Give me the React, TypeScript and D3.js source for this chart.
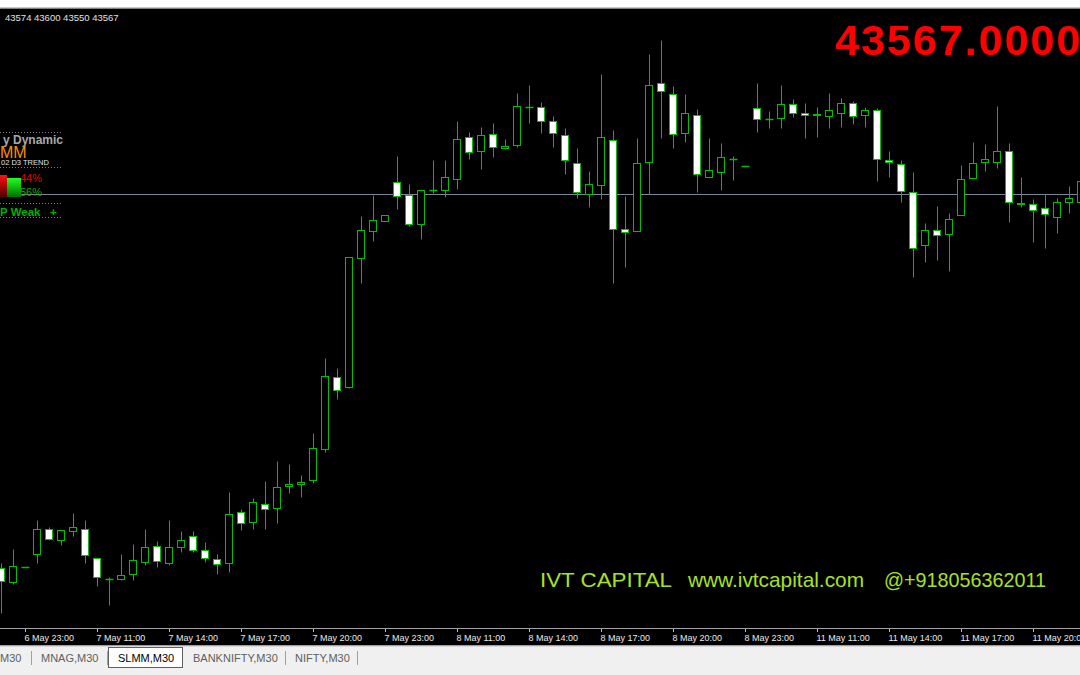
import React from 'react';
import * as d3 from 'd3';

const W = 1080;
const H = 675;

const opens = [41697,41630,41705,41769,41892,41840,41884,41892,41750,41644,41645,41667,41730,41810,41724,41805,41860,41787,41742,41724,41979,41927,42017,41997,42110,42119,42137,42294,42652,42602,43251,43385,43435,43630,43564,43417,43589,43589,43645,43852,43784,43867,43799,43814,44005,44005,43935,43862,43725,43567,43614,43837,43395,43385,43727,44122,44070,43874,43964,43655,43677,43744,43710,43997,43942,43949,44017,43974,43965,43957,43975,44025,43965,43990,43737,43717,43580,43315,43387,43367,43464,43647,43727,43727,43784,43525,43520,43500,43455,43529,43527];
const highs = [41725,41792,41706,41939,41905,41889,41972,41939,41750,41652,41769,41819,41892,41834,41939,41884,41884,41830,41767,42077,41996,42050,42134,42235,42220,42164,42375,42747,42697,43256,43460,43565,43466,43759,43617,43587,43739,43739,43935,43880,43904,43922,43842,44072,44114,44027,43959,43897,43800,43685,44169,43889,43560,43849,44267,44339,44109,44070,43995,43850,43825,43759,43711,44122,43984,44114,44042,44022,44002,44072,44050,44035,44002,43997,43785,43739,43677,43425,43509,43472,43714,43830,43817,44009,43822,43652,43542,43567,43547,43609,43636];
const lows = [41472,41617,41705,41722,41839,41812,41859,41722,41610,41514,41639,41639,41714,41705,41714,41780,41780,41730,41669,41680,41889,41892,41892,41925,42072,42052,42125,42277,42544,42599,43122,43333,43435,43491,43407,43344,43575,43552,43595,43742,43694,43755,43792,43805,43922,43872,43805,43667,43547,43502,43542,43122,43202,43385,43567,43850,43797,43827,43577,43655,43587,43639,43710,43879,43900,43897,43955,43847,43855,43900,43905,43919,43902,43634,43652,43527,43155,43230,43239,43185,43464,43647,43685,43699,43430,43505,43329,43300,43372,43475,43527];
const closes = [41635,41710,41706,41892,41845,41889,41905,41762,41654,41645,41664,41739,41804,41732,41804,41840,41787,41747,41717,41969,41922,42029,41995,42105,42117,42127,42299,42660,42587,43256,43391,43441,43466,43559,43420,43587,43590,43654,43844,43780,43862,43804,43809,44007,44006,43935,43872,43739,43578,43619,43855,43394,43379,43722,44112,44082,43867,43972,43670,43687,43755,43745,43711,43942,43943,44017,43975,43962,43966,43990,44022,43959,43987,43744,43727,43584,43300,43390,43362,43445,43642,43726,43745,43785,43529,43517,43489,43469,43527,43549,43636];

const timeLabels = ['6 May 23:00','7 May 11:00','7 May 14:00','7 May 17:00','7 May 20:00','7 May 23:00','8 May 11:00','8 May 14:00','8 May 17:00','8 May 20:00','8 May 23:00','11 May 11:00','11 May 14:00','11 May 17:00','11 May 20:00'];
const timeLabelBars = [2,8,14,20,26,32,38,44,50,56,62,68,74,80,86];

const headerValues = [43574, 43600, 43550, 43567];
const lastPrice = 43567;
const tabs = ['M30', 'MNAG,M30', 'SLMM,M30', 'BANKNIFTY,M30', 'NIFTY,M30'];
const tabX = [0, 41, 118, 193, 295];
const tabSeps = [31, 285, 357];
const activeTab = 2;
const watermark = ['IVT CAPITAL', 'www.ivtcapital.com', '@+918056362011'];
const watermarkX = [540, 688, 884];
const watermarkW = [132, 176, 162];

const CANDLE = '#00c000';
const FONT = "'Liberation Sans', Arial, sans-serif";

const s = (v: number) => Math.round(v) + 0.5;

export default function App() {
  const x = d3.scaleLinear().domain([0, 90]).range([1.5, 1081.5]);
  const y = d3.scaleLinear().domain([41398.5, 44488.5]).range([628, 10]);

  const candles = opens.map((o, i) => {
    const c = closes[i];
    const cx = s(x(i) - 0.5);
    const top = s(y(Math.max(o, c)));
    const bot = s(y(Math.min(o, c)));
    const hy = s(y(highs[i]));
    const ly = s(y(lows[i]));
    const bull = c >= o;
    return (
      <g key={i}>
        <line x1={cx} x2={cx} y1={hy} y2={ly} stroke={CANDLE} strokeWidth={1} />
        {bot - top >= 1 ? (
          <rect x={cx - 4} y={top} width={7} height={bot - top} fill={bull ? '#000' : '#fff'} stroke={CANDLE} strokeWidth={1} />
        ) : (
          <line x1={cx - 4} x2={cx + 4} y1={top} y2={top} stroke={CANDLE} strokeWidth={1.5} />
        )}
      </g>
    );
  });

  const py = s(y(lastPrice));

  return (
    <div style={{ position: 'fixed', left: 0, top: 0 }}>
      <svg width={W} height={H} style={{ display: 'block' }} fontFamily={FONT}>
        <defs>
          <clipPath id="plot"><rect x={0} y={10} width={W} height={618} /></clipPath>
          <linearGradient id="redG" x1="0" y1="0" x2="0" y2="1">
            <stop offset="0" stopColor="#ff1010" />
            <stop offset="1" stopColor="#500000" />
          </linearGradient>
          <linearGradient id="greenG" x1="0" y1="0" x2="0" y2="1">
            <stop offset="0" stopColor="#20ff20" />
            <stop offset="1" stopColor="#007000" />
          </linearGradient>
        </defs>
        <rect x={0} y={0} width={W} height={H} fill="#f0f0f0" />
        <rect x={0} y={0} width={W} height={7} fill="#ffffff" />
        <line x1={0} x2={W} y1={7.5} y2={7.5} stroke="#c8c8c8" />
        <line x1={0} x2={W} y1={8.5} y2={8.5} stroke="#808080" />
        <rect x={0} y={9} width={W} height={636} fill="#000" />

        <g clipPath="url(#plot)">
          <line x1={0} x2={W} y1={py} y2={py} stroke="#778899" strokeWidth={1} />
          {candles}
        </g>

        {/* header OHLC */}
        <text x={5} y={21} fontSize={9.5} fill="#e0e0e0">{headerValues.join(' ')}</text>
        <text x={835} y={55} fontSize={43} fontWeight="bold" fill="#ff0000" letterSpacing={2}>{lastPrice.toFixed(4)}</text>

        {/* left indicator panel */}
        {[132.5, 167.5, 203.5, 217.5].map((yy, i) => (
          <line key={i} x1={0} x2={63} y1={yy} y2={yy} stroke="#808080" strokeDasharray="1,2" />
        ))}
        <text x={63} y={144} fontSize={12} fontWeight="bold" fill="#a9a9a9" textAnchor="end">y Dynamic</text>
        <text x={0} y={158} fontSize={16} fill="#ff8c00">MM</text>
        <text x={1} y={165} fontSize={7.5} fill="#e0e0e0">02 D3 TREND</text>
        <text x={20} y={181.5} fontSize={11} fill="#e00000">44%</text>
        <text x={20} y={196} fontSize={11} fill="#00b000">56%</text>
        <rect x={0} y={175} width={7} height={22} fill="url(#redG)" />
        <rect x={7} y={178} width={14} height={19} fill="url(#greenG)" />
        <text x={0} y={215.5} fontSize={11.5} fontWeight="bold" fill="#00b000">P Weak</text>
        <text x={50} y={215.5} fontSize={11.5} fontWeight="bold" fill="#00b000">+</text>

        {/* watermark */}
        <g fontSize={21} fill="#a8e21e">
          {watermark.map((t, i) => (
            <text key={i} x={watermarkX[i]} y={587} textLength={watermarkW[i]} lengthAdjust="spacingAndGlyphs">{t}</text>
          ))}
        </g>

        {/* time axis */}
        <line x1={0} x2={W} y1={628.5} y2={628.5} stroke="#a0a0a0" />
        {timeLabelBars.map((b, i) => {
          const tx = s(x(b) - 0.5);
          return (
            <g key={i}>
              <line x1={tx} x2={tx} y1={629} y2={632} stroke="#c0c0c0" />
              <text x={tx - 1} y={640.5} fontSize={9} fill="#e8e8e8">{timeLabels[i]}</text>
            </g>
          );
        })}

        {/* bottom tabs */}
        <line x1={0} x2={W} y1={645.5} y2={645.5} stroke="#a0a0a0" />
        <line x1={0} x2={W} y1={646.5} y2={646.5} stroke="#d8d8d8" />
        <rect x={108.5} y={647.5} width={74} height={20} fill="#ffffff" stroke="#606060" />
        {tabSeps.map((sx, i) => (
          <line key={i} x1={sx + 0.5} x2={sx + 0.5} y1={651} y2={665} stroke="#a0a0a0" />
        ))}
        <line x1={107.5} x2={107.5} y1={651} y2={665} stroke="#a0a0a0" />
        {tabs.map((t, i) => (
          <text key={i} x={tabX[i]} y={662} fontSize={11} fill={i === activeTab ? '#000' : '#606060'}>{t}</text>
        ))}
      </svg>
    </div>
  );
}
